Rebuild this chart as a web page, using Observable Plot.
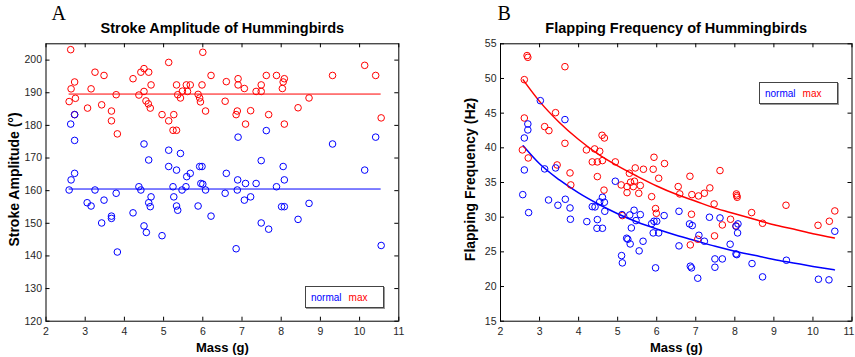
<!DOCTYPE html>
<html>
<head>
<meta charset="utf-8">
<script src="https://cdn.jsdelivr.net/npm/d3@7"></script>
<script src="https://cdn.jsdelivr.net/npm/@observablehq/plot@0.6"></script>
<style>
  body { margin: 0; background: #fff; }
  #wrap { position: relative; width: 855px; height: 357px; display: flex; }
  .legend {
    position: absolute; box-sizing: border-box; width: 79px; height: 22px;
    border: 1px solid #444; box-shadow: 1px 1px 0 #999; background: #fff;
    display: flex; align-items: center; padding-left: 5px;
    font: 10px "Liberation Sans", Arial, sans-serif;
  }
  .legend .n { color: #0000ff; margin-right: 7px; }
  .legend .m { color: #ff0000; }
</style>
</head>
<body>
<div id="wrap"></div>
<script>
// Stroke amplitude (degrees) against body mass (g), maximal and normal flight
const ampMassMax = [2.63,2.73,2.64,2.59,2.75,2.73,3.06,3.15,3.25,3.42,3.48,3.67,3.67,3.79,3.82,4.22,4.37,4.42,4.50,4.62,4.50,4.68,4.55,4.61,4.66,4.96,5.13,5.13,5.26,5.24,5.33,5.33,5.36,5.43,5.48,5.58,5.61,5.68,5.88,5.92,5.94,6.00,5.98,6.07,6.21,6.57,6.60,6.85,6.88,6.90,6.90,7.06,7.09,7.22,7.36,7.49,7.49,7.62,7.68,7.88,8.08,8.05,8.03,8.08,8.43,8.71,9.31,10.13,10.41,10.55];
const ampMax = [203.2,193.3,191.2,187.3,188.3,183.3,185.3,191.2,196.3,186.3,195.3,184.4,181.4,189.4,177.4,194.3,189.3,196.3,197.4,196.3,190.4,192.4,187.5,186.6,185.3,183.3,199.3,181.4,183.3,178.5,178.5,192.4,189.4,188.4,190.5,192.4,190.4,192.4,189.5,188.4,187.2,202.4,192.4,184.4,195.3,187.4,193.4,183.3,184.4,194.3,192.4,191.3,180.4,184.5,190.4,190.4,192.4,195.3,183.3,195.3,194.3,193.3,191.3,180.4,185.4,188.4,195.3,198.4,195.3,182.3];
const ampMassNormal = [2.73,2.63,2.73,4.50,4.62,5.13,5.43,5.13,5.33,5.59,5.68,5.92,5.98,6.60,6.90,2.73,2.64,6.89,2.59,3.25,3.05,3.15,3.48,3.79,3.42,3.67,3.67,3.82,4.22,4.37,4.42,4.68,4.62,4.66,4.50,4.56,4.96,5.24,5.26,5.33,5.36,5.47,5.57,5.95,6.00,6.07,5.88,6.21,6.57,6.88,6.85,7.06,7.49,8.05,10.13,7.09,7.36,8.08,7.88,7.22,8.01,8.08,8.71,8.43,7.49,7.68,10.55,7.62,9.31,10.41];
const ampNormal = [183.3,180.4,175.4,174.3,169.4,172.4,171.4,167.4,166.3,164.3,165.3,167.4,167.4,165.3,176.4,165.3,163.3,163.3,160.2,160.2,156.3,155.3,157.1,159.2,150.1,152.2,151.5,141.2,153.2,161.2,160.2,158.1,156.3,155.1,149.2,147.2,146.2,161.2,158.1,155.3,154.0,160.2,161.2,162.2,162.0,160.2,155.3,152.2,159.2,160.2,142.2,157.1,169.2,167.4,166.3,162.2,162.2,163.3,161.2,158.1,155.1,155.1,156.1,151.2,150.1,148.2,143.2,178.4,174.3,176.4];
// Mean amplitude of each flight mode
const ampMeanMax = 189.6;
const ampMeanNormal = 160.5;

// Wingbeat frequency (Hz) against body mass (g)
const freqMassMax = [2.68,2.70,2.61,3.65,2.61,3.13,3.24,3.41,3.65,2.56,2.71,3.45,3.78,3.80,4.60,4.66,4.20,4.41,4.54,4.35,4.48,4.61,4.48,4.94,4.65,5.30,5.45,5.66,5.91,5.93,6.20,6.05,5.09,5.24,5.33,5.40,5.43,5.58,6.55,5.24,5.54,5.87,5.97,5.99,5.12,6.59,7.62,6.85,7.36,6.90,7.07,7.22,7.47,8.04,8.05,8.06,8.43,9.31,6.89,7.68,7.89,8.03,8.71,10.13,10.42,10.56,7.48,7.05,6.86];
const freqMax = [53.3,53.05,49.83,51.7,44.3,43.06,42.48,45.07,40.65,39.7,38.54,37.53,36.38,34.65,41.81,41.42,39.7,39.84,39.5,37.97,37.97,38.16,35.85,37.97,33.9,36.33,37.1,36.91,36.91,38.64,37.73,35.61,34.65,34.41,35.04,34.41,35.18,34.56,34.41,33.54,33.44,32.96,31.24,30.56,30.23,33.35,36.72,35.9,34.22,33.25,33.06,33.45,31.91,33.35,33.1,32.87,30.66,31.72,30.42,28.88,29.7,28.74,29.12,28.83,29.41,30.9,27.3,26.82,26.0];
const freqMassNormal = [3.02,3.65,2.70,2.70,2.61,2.61,3.13,3.41,4.94,2.57,2.72,3.23,3.47,3.66,3.78,3.79,4.21,4.35,4.42,4.48,4.47,4.61,4.54,4.61,4.66,4.67,5.11,5.31,5.42,5.47,5.35,5.58,5.23,5.26,5.32,5.65,5.10,5.12,5.55,5.87,5.93,6.00,5.91,6.05,6.19,5.97,6.57,6.57,6.84,6.91,7.35,7.62,8.08,8.03,8.07,7.08,7.22,7.88,8.03,8.05,7.49,7.68,7.49,6.86,6.89,7.05,8.44,9.32,8.71,10.14,10.41,10.56];
const freqNormal = [46.8,44.07,43.44,42.58,41.42,36.81,36.96,37.1,35.18,33.25,30.66,32.48,31.72,32.58,31.33,29.7,29.36,31.52,31.48,29.65,28.4,28.4,32.2,32.87,32.15,30.85,30.37,30.32,31.0,29.51,28.45,30.37,26.96,26.82,26.14,26.53,24.46,23.41,25.14,29.07,29.41,29.41,27.73,27.73,30.23,22.69,30.85,25.86,29.03,28.79,29.99,29.89,29.03,28.69,27.73,27.39,26.53,26.1,24.7,24.6,23.98,23.98,22.78,22.93,22.69,21.2,23.31,23.79,21.39,21.05,20.96,27.97];
// Fitted frequency curves, sampled along mass
const fitMass = [2.58,3,3.5,4,4.5,5,5.5,6,6.5,7,7.5,8,8.5,9,9.5,10,10.55];
const fitFreqMax = [49.8,46.7,43.7,41.2,39.1,37.4,35.9,34.5,33.3,32.3,31.3,30.5,29.7,28.9,28.3,27.6,27.0];
const fitFreqNormal = [40.3,37.7,35.4,33.5,31.9,30.5,29.3,28.3,27.4,26.6,25.8,25.1,24.5,23.9,23.4,22.9,22.4];

// Axis ticks
const massTicks = [2,3,4,5,6,7,8,9,10,11];
const ampTicks = [120,130,140,150,160,170,180,190,200];
const freqTicks = [15,20,25,30,35,40,45,50,55];

const RED = "#ff0000", BLUE = "#0000ff";
const SANS = '"Liberation Sans", Arial, Helvetica, sans-serif';
const SERIF = '"Liberation Serif", "Times New Roman", serif';
const pts = (xs, ys) => xs.map((x, i) => ({x, y: ys[i]}));

function panel(o) {
  const H = 357, mt = 43.3, mb = 36.3;
  const fw = o.width - o.marginLeft - o.marginRight;
  const fh = H - mt - mb;
  const lastTick = massTicks[massTicks.length - 1];
  const xLabel = {tickSize: 0, tickPadding: 6, label: null, fill: "#262626"};
  return Plot.plot({
    width: o.width, height: H,
    marginLeft: o.marginLeft, marginRight: o.marginRight, marginTop: mt, marginBottom: mb,
    x: {domain: [2, 11]},
    y: {domain: o.yDomain},
    style: {fontFamily: SANS, fontSize: "10.5px", color: "#000", background: "#fff", overflow: "visible"},
    marks: [
      // inward ticks on all four sides
      Plot.tickX(massTicks, {x: d => d, insetTop: fh - 4, stroke: "#000"}),
      Plot.tickX(massTicks, {x: d => d, insetBottom: fh - 4, stroke: "#000"}),
      Plot.tickY(o.yTicks, {y: d => d, insetRight: fw - 4, stroke: "#000"}),
      Plot.tickY(o.yTicks, {y: d => d, insetLeft: fw - 4, stroke: "#000"}),
      // tick labels; the last one is nudged in when it sits at the page edge
      Plot.axisX(massTicks.filter(t => t !== lastTick), xLabel),
      Plot.axisX([lastTick], {...xLabel, dx: o.lastLabelDx || 0}),
      Plot.axisY(o.yTicks, {tickSize: 0, tickPadding: 4, label: null, fill: "#262626"}),
      ...o.marks,
      Plot.frame({stroke: "#000", strokeWidth: 1}),
      // panel letter, title and axis titles
      Plot.text([o.letter], {text: d => d, frameAnchor: "top-left", textAnchor: "start", lineAnchor: "bottom",
        dx: o.letterDx, dy: -24.3, fontFamily: SERIF, fontSize: 20, fill: "#000"}),
      Plot.text([o.title], {text: d => d, frameAnchor: "top", textAnchor: "middle", lineAnchor: "bottom", dy: -11,
        fontWeight: "bold", fontSize: 14.5, fill: "#000"}),
      Plot.text(["Mass (g)"], {text: d => d, frameAnchor: "bottom", textAnchor: "middle", lineAnchor: "bottom", dy: 30.5,
        fontWeight: "bold", fontSize: 13, fill: "#000"}),
      Plot.text([o.ylabel], {text: d => d, frameAnchor: "left", textAnchor: "middle", lineAnchor: "middle", rotate: -90,
        dx: o.ylabelDx, dy: -3, fontWeight: "bold", fontSize: 14, fill: "#000"})
    ]
  });
}

const massRange = d3.extent(ampMassMax.concat(ampMassNormal));
const dotOpts = {x: "x", y: "y", r: 3.3, fill: "none", strokeWidth: 1};

const left = panel({
  width: 450, marginLeft: 45.5, marginRight: 51.7,
  yDomain: [120, 205], yTicks: ampTicks,
  letter: "A", letterDx: 5.5, title: "Stroke Amplitude of Hummingbirds",
  ylabel: "Stroke Amplitude (°)", ylabelDx: -31.5,
  marks: [
    Plot.ruleY([ampMeanMax], {y: d => d, x1: massRange[0], x2: massRange[1], stroke: RED}),
    Plot.ruleY([ampMeanNormal], {y: d => d, x1: massRange[0], x2: massRange[1], stroke: BLUE}),
    Plot.dot(pts(ampMassMax, ampMax), {...dotOpts, stroke: RED}),
    Plot.dot(pts(ampMassNormal, ampNormal), {...dotOpts, stroke: BLUE})
  ]
});

const right = panel({
  width: 405, marginLeft: 50, marginRight: 3.5, lastLabelDx: -3,
  yDomain: [15, 55], yTicks: freqTicks,
  letter: "B", letterDx: -3, title: "Flapping Frequency of Hummingbirds",
  ylabel: "Flapping Frequency (Hz)", ylabelDx: -30,
  marks: [
    Plot.line(pts(fitMass, fitFreqMax), {x: "x", y: "y", stroke: RED, curve: "monotone-x"}),
    Plot.line(pts(fitMass, fitFreqNormal), {x: "x", y: "y", stroke: BLUE, curve: "monotone-x"}),
    Plot.dot(pts(freqMassMax, freqMax), {...dotOpts, stroke: RED}),
    Plot.dot(pts(freqMassNormal, freqNormal), {...dotOpts, stroke: BLUE})
  ]
});

const wrap = document.getElementById("wrap");
wrap.append(left, right);

// legends inside each panel
function legend(x, y) {
  const div = document.createElement("div");
  div.className = "legend";
  div.style.left = x + "px";
  div.style.top = y + "px";
  div.innerHTML = '<span class="n">normal</span><span class="m">max</span>';
  wrap.append(div);
}
legend(305, 286);
legend(759, 82);
</script>
</body>
</html>
